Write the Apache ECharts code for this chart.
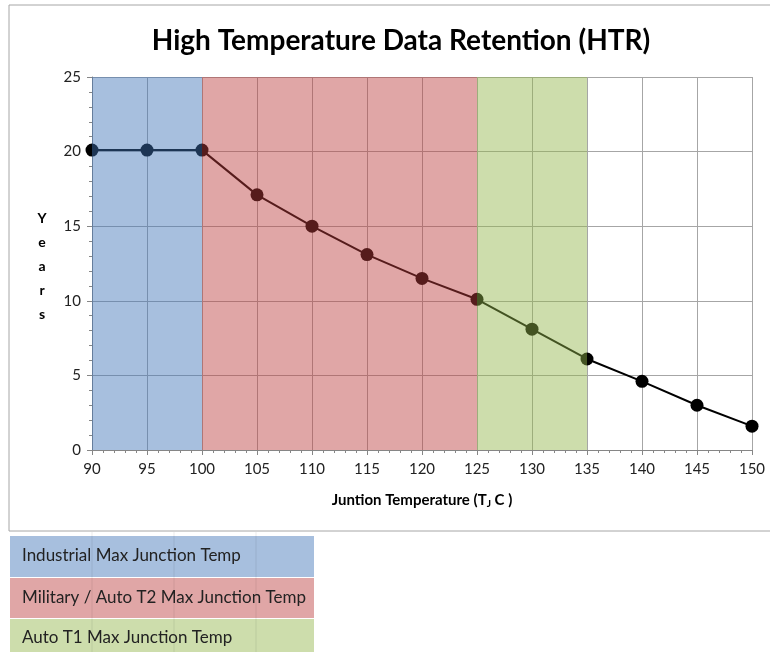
<!DOCTYPE html>
<html>
<head>
<meta charset="utf-8">
<script src="https://cdn.jsdelivr.net/npm/echarts@6/dist/echarts.min.js"></script>
<style>
html,body{margin:0;padding:0;background:#fff;}
#c{width:770px;height:652px;}
</style>
</head>
<body>
<div id="c"></div>
<script>
const temps = [90, 95, 100, 105, 110, 115, 120, 125, 130, 135, 140, 145, 150];
const years = [20.1, 20.1, 20.1, 17.1, 15.0, 13.1, 11.5, 10.1, 8.1, 6.1, 4.6, 3.0, 1.6];
const bands = [
  {name: 'Industrial Max Junction Temp', from: 90, to: 100},
  {name: 'Military / Auto T2 Max Junction Temp', from: 100, to: 125},
  {name: 'Auto T1 Max Junction Temp', from: 125, to: 135}
];
const bandOverlay = ['rgba(64,116,183,0.46)', 'rgba(188,62,62,0.46)', 'rgba(146,181,75,0.46)'];
const bandSolid = ['#A7BFDE', '#E0A6A6', '#CDDDAC'];
const titleText = 'High Temperature Data Retention (HTR)';

const FONT = 'Lato';
const chart = echarts.init(document.getElementById('c'));

const legendGraphics = [];
const boxY = [536, 578, 619];
const boxH = [41, 40, 34];
bands.forEach((b, i) => {
  legendGraphics.push({
    type: 'rect', shape: {x: 10, y: boxY[i], width: 304, height: boxH[i]},
    style: {fill: bandSolid[i]}, z: 1
  });
  legendGraphics.push({
    type: 'text', x: 22, y: boxY[i] + (i === 2 ? 19 : 20),
    style: {text: b.name, font: '17px ' + FONT, fill: '#222', verticalAlign: 'middle'}, z: 3
  });
});
// faint spreadsheet cell lines
[92, 174, 256].forEach(x => {
  legendGraphics.push({type: 'line', shape: {x1: x, y1: 532, x2: x, y2: 652},
    style: {stroke: 'rgba(0,0,0,0.08)', lineWidth: 1}, z: 2});
});

const option = {
  backgroundColor: '#fff',
  animation: false,
  title: {
    text: titleText, left: 396, top: 22, textAlign: 'center',
    textStyle: {fontFamily: FONT, fontWeight: 'bold', fontSize: 28, color: '#000'}
  },
  grid: {left: 92, right: 18, top: 77, bottom: 202},
  xAxis: {
    type: 'value', min: 90, max: 150, interval: 5,
    name: '{a|Juntion Temperature (T}{s|J}{a| C )}',
    nameLocation: 'middle', nameGap: 42,
    nameTextStyle: {rich: {
      a: {fontFamily: FONT, fontWeight: 'bold', fontSize: 15, color: '#000'},
      s: {fontFamily: FONT, fontWeight: 'bold', fontSize: 10, color: '#000', verticalAlign: 'bottom', padding: [7, 0, 0, 0]}
    }},
    axisLine: {lineStyle: {color: '#868686', width: 1}},
    axisTick: {show: true, length: 5, lineStyle: {color: '#868686'}},
    minorTick: {show: true, splitNumber: 5, length: 3, lineStyle: {color: '#868686'}},
    axisLabel: {fontFamily: FONT, fontSize: 15, color: '#222', margin: 12},
    splitLine: {show: true, lineStyle: {color: '#a6a6a6', width: 1}}
  },
  yAxis: {
    type: 'value', min: 0, max: 25, interval: 5,
    axisLine: {show: true, lineStyle: {color: '#868686', width: 1}},
    axisTick: {show: true, length: 5, lineStyle: {color: '#868686'}},
    minorTick: {show: true, splitNumber: 5, length: 3, lineStyle: {color: '#868686'}},
    axisLabel: {fontFamily: FONT, fontSize: 15, color: '#222', margin: 11},
    splitLine: {show: true, lineStyle: {color: '#a6a6a6', width: 1}}
  },
  graphic: [
    {type: 'rect', shape: {x: 9, y: 5, width: 800, height: 526},
      style: {fill: 'none', stroke: '#a6a6a6', lineWidth: 1}, z: 0},
    {type: 'text', x: 42, y: 266,
      style: {text: 'Y\ne\na\nr\ns', font: 'bold 14px ' + FONT, fill: '#000',
        align: 'center', verticalAlign: 'middle', lineHeight: 24}, z: 3}
  ].concat(legendGraphics),
  series: [
    {
      type: 'line', z: 2,
      data: temps.map((t, i) => [t, years[i]]),
      symbol: 'circle', symbolSize: 13,
      itemStyle: {color: '#000'},
      lineStyle: {color: '#000', width: 2}
    },
    {
      type: 'line', z: 5, data: [],
      markArea: {
        silent: true, z: 10,
        data: bands.map((b, i) => [
          {xAxis: b.from, yAxis: 0, itemStyle: {color: bandOverlay[i]}},
          {xAxis: b.to, yAxis: 25}
        ])
      }
    }
  ]
};
chart.setOption(option);
</script>
</body>
</html>
